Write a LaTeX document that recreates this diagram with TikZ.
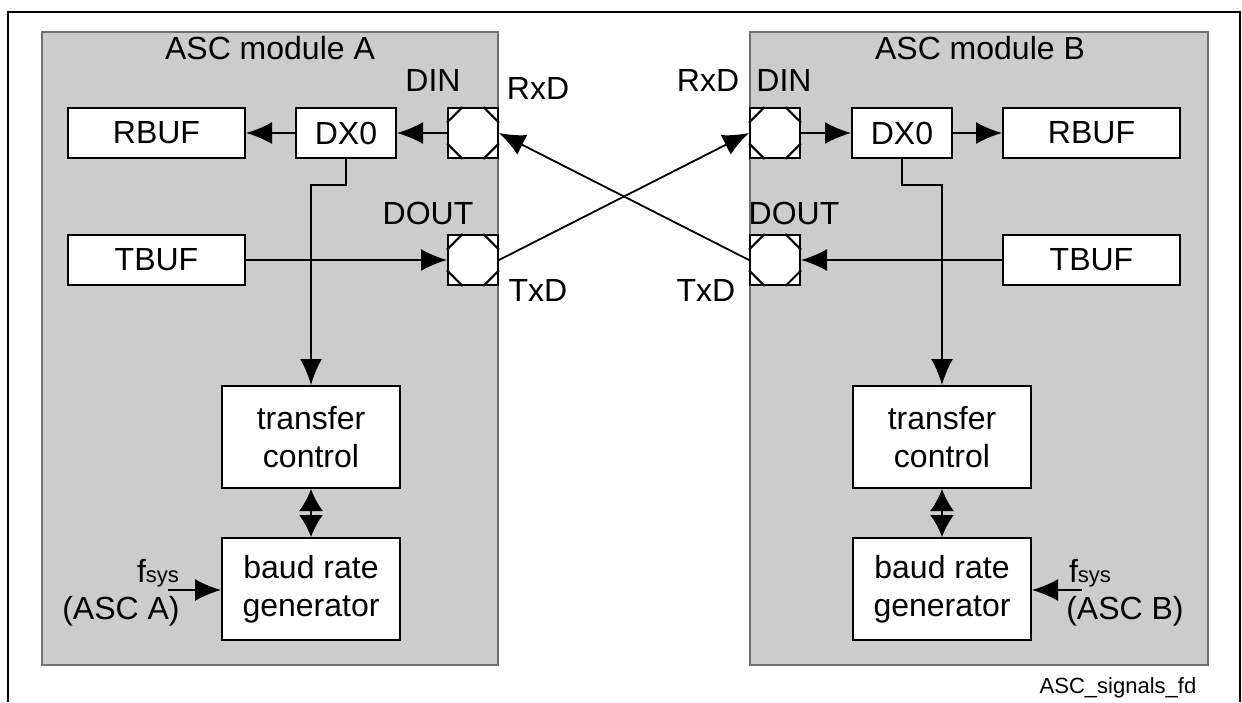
\documentclass[tikz,border=0pt]{standalone}
\usepackage{fontspec}
\setmainfont{Liberation Sans}
\usetikzlibrary{calc,arrows.meta}
\definecolor{modgray}{HTML}{CCCCCC}
\definecolor{edgegray}{HTML}{707070}

\tikzset{
  blk/.style={draw,fill=white,line width=1pt,inner sep=0pt,
    minimum width=88.5pt,minimum height=25pt},
  dxbox/.style={blk,minimum width=50pt},
  ctrl/.style={blk,minimum width=89pt,minimum height=51pt,align=center},
  pad/.style={blk,minimum width=25pt,minimum height=25pt},
  arr/.style={line width=0.9pt,-{Latex[length=13pt,width=11pt]}},
  biarr/.style={line width=0.9pt,{Latex[length=11pt,width=12pt]}-{Latex[length=11pt,width=12pt]}},
  lbl/.style={inner sep=0pt}
}

\begin{document}
\begin{tikzpicture}[x=0.5pt,y=-0.5pt,font=\fontsize{16}{19}\selectfont]
  \useasboundingbox (0,0) rectangle (1242,702);
  % frame and module areas
  \draw[line width=1pt] (8,702) -- (8,12) -- (1240,12) -- (1240,702);
  \draw[edgegray,fill=modgray,line width=0.6pt] (42,32) rectangle (498,665);
  \draw[edgegray,fill=modgray,line width=0.6pt] (750,32) rectangle (1208,665);
  \node[lbl] (titA) at (270,48) {ASC module A};
  \node[lbl] (titB) at (980,48) {ASC module B};

  % module A
  \node[blk] (rbufA) at (156.5,133) {RBUF};
  \node[dxbox] (dxA) at (346,133) {DX0};
  \node[pad] (dinA) at (473,133) {};
  \node[blk] (tbufA) at (156.5,260) {TBUF};
  \node[pad] (doutA) at (473,260) {};
  \node[ctrl] (tcA) at (311,437) {transfer\\control};
  \node[ctrl] (brA) at (311,589) {baud rate\\generator};

  % module B
  \node[pad] (dinB) at (775,133) {};
  \node[dxbox] (dxB) at (902,133) {DX0};
  \node[blk] (rbufB) at (1091.5,133) {RBUF};
  \node[pad] (doutB) at (775,260) {};
  \node[blk] (tbufB) at (1091.5,260) {TBUF};
  \node[ctrl] (tcB) at (942,437) {transfer\\control};
  \node[ctrl] (brB) at (942,589) {baud rate\\generator};

  % pad corners
  \foreach \p in {dinA,doutA,dinB,doutB}{
    \draw[line width=1pt] ($(\p.north west)!0.3!(\p.north east)$) -- ($(\p.north west)!0.3!(\p.south west)$);
    \draw[line width=1pt] ($(\p.north east)!0.3!(\p.north west)$) -- ($(\p.north east)!0.3!(\p.south east)$);
    \draw[line width=1pt] ($(\p.south west)!0.3!(\p.south east)$) -- ($(\p.south west)!0.3!(\p.north west)$);
    \draw[line width=1pt] ($(\p.south east)!0.3!(\p.south west)$) -- ($(\p.south east)!0.3!(\p.north east)$);
  }

  % pin labels
  \node[lbl] (dinlA) at (433,80) {DIN};
  \node[lbl] (doutlA) at (428,213) {DOUT};
  \node[lbl] (rxdA) at (538,88) {RxD};
  \node[lbl] (txdA) at (538,290) {TxD};
  \node[lbl] (dinlB) at (784,80) {DIN};
  \node[lbl] (doutlB) at (794,213) {DOUT};
  \node[lbl] (rxdB) at (708,80) {RxD};
  \node[lbl] (txdB) at (706,290) {TxD};

  % signals A
  \draw[arr] (dinA.west) -- (dxA.east);
  \draw[arr] (dxA.west) -- (rbufA.east);
  \draw[arr] (dxA.south) -- ++(0,26) -| (tcA.north);
  \draw[arr] (tbufA.east) -- (doutA.west);
  \draw[biarr] (tcA.south) -- (brA.north);

  % signals B
  \draw[arr] (dinB.east) -- (dxB.west);
  \draw[arr] (dxB.east) -- (rbufB.west);
  \draw[arr] (dxB.south) -- ++(0,26) -| (tcB.north);
  \draw[arr] (tbufB.west) -- (doutB.east);
  \draw[biarr] (tcB.south) -- (brB.north);

  % crossed lines
  \draw[arr] (doutA.east) -- (dinB.west);
  \draw[arr] (doutB.west) -- (dinA.east);

  % clocks
  \node[lbl] (fsA) at (158,573) {f{\fontsize{11}{12}\selectfont sys}};
  \node[lbl] (ascA) at (121,611) {(ASC A)};
  \coordinate (fA) at (168,590);
  \draw[arr] (fA) -- (brA.west |- fA);
  \node[lbl] (fsB) at (1090,573) {f{\fontsize{11}{12}\selectfont sys}};
  \node[lbl] (ascB) at (1125,611) {(ASC B)};
  \coordinate (fB) at (1082,590);
  \draw[arr] (fB) -- (brB.east |- fB);

  \node[lbl,font=\fontsize{11}{13}\selectfont] (figname) at (1118,688) {ASC\_signals\_fd};
\end{tikzpicture}
\end{document}
